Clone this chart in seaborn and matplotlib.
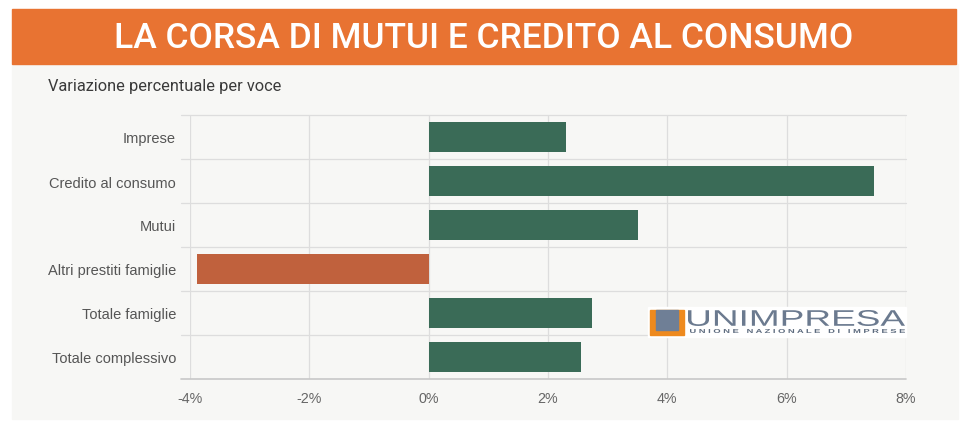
import matplotlib
matplotlib.use("Agg")
import matplotlib.pyplot as plt
import matplotlib.patches as mpatches
from matplotlib.textpath import TextPath
from matplotlib.font_manager import FontProperties
from matplotlib.transforms import Affine2D
import pandas as pd
import seaborn as sns

categories = ["Imprese", "Credito al consumo", "Mutui", "Altri prestiti famiglie",
              "Totale famiglie", "Totale complessivo"]
values = [2.31, 7.47, 3.50, -3.88, 2.73, 2.55]
xticks = [-4, -2, 0, 2, 4, 6, 8]
xtick_labels = ["-4%", "-2%", "0%", "2%", "4%", "6%", "8%"]

df = pd.DataFrame({"voce": categories, "valore": values})
df["segno"] = ["neg" if v < 0 else "pos" for v in values]

sns.set_theme(style="white")
plt.rcParams["font.family"] = ["Liberation Sans", "DejaVu Sans"]

W, H = 967, 439
fig = plt.figure(figsize=(W / 100, H / 100), dpi=100, facecolor="white")

def fx(px):
    return px / W

def fy(py):
    return 1 - py / H

def fitted_text(s, x0, y0, x1, y1, color, weight="normal", z=7):
    # testo stirato dentro un box in pixel (x0,y0 alto-sinistra)
    tp = TextPath((0, 0), s, size=10, prop=FontProperties(family="Liberation Sans", weight=weight))
    ext = tp.get_extents()
    sx = fx(x1 - x0) / ext.width
    sy = ((y1 - y0) / H) / ext.height
    tr = Affine2D().translate(-ext.x0, -ext.y0).scale(sx, sy).translate(fx(x0), fy(y1))
    fig.patches.append(mpatches.PathPatch(tp, transform=tr + fig.transFigure,
                                          color=color, lw=0, zorder=z))

# sfondo pannello e banner (sotto gli assi)
fig.patches.append(mpatches.Rectangle((fx(12), fy(420)), fx(946), 355 / H,
                                      transform=fig.transFigure, color="#f7f7f5", zorder=-2))
fig.patches.append(mpatches.Rectangle((fx(12), fy(65)), fx(944), 55 / H,
                                      transform=fig.transFigure, color="#e87332", zorder=-1))
fig.text(0.5, fy(38), "LA CORSA DI MUTUI E CREDITO AL CONSUMO", color="white",
         ha="center", va="center", fontsize=25.5, fontweight="medium",
         family=["Roboto", "DejaVu Sans"])
fig.text(fx(48), fy(86), "Variazione percentuale per voce", color="#3a3a3a",
         ha="left", va="center", fontsize=11.8,
         family=["Roboto", "DejaVu Sans"])

ax = fig.add_axes([fx(190), fy(380), fx(716), 264 / H])
ax.set_facecolor("none")
sns.barplot(data=df, y="voce", x="valore", hue="segno", orient="h",
            palette={"pos": "#3a6b57", "neg": "#c0613d"}, width=0.7,
            saturation=1, linewidth=0, legend=False, ax=ax, zorder=3)

ax.set_xlim(-4, 8)
ax.set_ylim(len(categories) - 0.5, -0.5)
ax.set_xticks(xticks)
ax.set_xticklabels(xtick_labels, color="#666666", fontsize=10.3)
ax.set_xlabel("")
ax.set_ylabel("")
ax.tick_params(axis="y", labelsize=10.5, labelcolor="#555555", length=0, pad=10)
ax.tick_params(axis="x", length=0, pad=9)
for s in ax.spines.values():
    s.set_visible(False)

for x in xticks:
    ax.axvline(x, color="#dddddd", lw=0.9, zorder=1)
for i in range(len(categories)):
    ax.plot([-4.15, 8], [i - 0.5, i - 0.5], color="#dddddd", lw=0.9,
            zorder=1, clip_on=False)
ax.plot([-4.15, 8], [len(categories) - 0.5] * 2, color="#c8c8c8", lw=1.2,
        zorder=2, clip_on=False)

# logo
fig.patches.append(mpatches.Rectangle((fx(648), fy(338)), fx(258), 30 / H,
                                      transform=fig.transFigure, color="white", zorder=4))
fig.patches.append(mpatches.Rectangle((fx(650), fy(336)), fx(34), 25 / H,
                                      transform=fig.transFigure, color="#ee8a1e", zorder=5))
fig.patches.append(mpatches.Rectangle((fx(656), fy(331)), fx(22), 20 / H,
                                      transform=fig.transFigure, color="#6f7f96", zorder=6))
fitted_text("UNIMPRESA", 688, 311, 905, 327, "#6b7a8f")
fitted_text("U N I O N E   N A Z I O N A L E   D I   I M P R E S E", 690, 330, 905, 334,
            "#5d6b7e", weight="bold")

fig.savefig("out.png", dpi=100, facecolor="white")
